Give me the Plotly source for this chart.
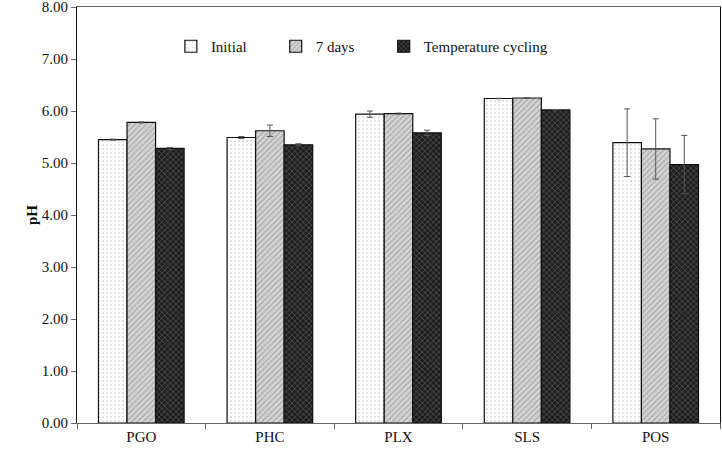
import plotly.graph_objects as go

categories = ["PGO", "PHC", "PLX", "SLS", "POS"]
initial = [5.45, 5.49, 5.94, 6.24, 5.39]
initial_err = [0.01, 0.02, 0.06, 0.005, 0.65]
days7 = [5.78, 5.62, 5.95, 6.25, 5.27]
days7_err = [0.01, 0.11, 0.01, 0.005, 0.58]
temp = [5.28, 5.35, 5.58, 6.02, 4.97]
temp_err = [0.02, 0.02, 0.05, 0.005, 0.56]
y_ticks = [0, 1, 2, 3, 4, 5, 6, 7, 8]

FONT = "Liberation Serif, Times New Roman, serif"

def err(vals):
    return dict(type="data", array=vals, visible=True, color="#555555",
                thickness=1, width=3)

fig = go.Figure()
fig.add_trace(go.Bar(
    name="Initial", x=categories, y=initial, error_y=err(initial_err),
    legend="legend",
    marker=dict(color="white", line=dict(color="#111111", width=1.2),
                pattern=dict(shape=".", fgcolor="#b8b8b8", bgcolor="#ffffff",
                             size=4, solidity=0.22, fillmode="overlay")),
))
fig.add_trace(go.Bar(
    name="7 days", x=categories, y=days7, error_y=err(days7_err),
    legend="legend2",
    marker=dict(color="#cccccc", line=dict(color="#111111", width=1.2),
                pattern=dict(shape="/", fgcolor="#a8a8a8", bgcolor="#d4d4d4",
                             size=4, solidity=0.3, fillmode="replace")),
))
fig.add_trace(go.Bar(
    name="Temperature cycling", x=categories, y=temp, error_y=err(temp_err),
    legend="legend3",
    marker=dict(color="#222222", line=dict(color="#111111", width=1.2),
                pattern=dict(shape="x", fgcolor="#5a5a5a", bgcolor="#1e1e1e",
                             size=4, solidity=0.3, fillmode="replace")),
))

def leg(x):
    return dict(orientation="h", x=x, y=0.905, xanchor="left",
                yanchor="middle", bgcolor="rgba(0,0,0,0)",
                font=dict(family=FONT, size=15, color="#111111"),
                itemwidth=30)

fig.update_layout(
    width=722, height=449,
    margin=dict(l=77, r=2, t=7, b=26, autoexpand=False),
    paper_bgcolor="white", plot_bgcolor="white",
    font=dict(family=FONT, size=15, color="#111111"),
    barmode="group", bargap=0.334, bargroupgap=0,
    showlegend=True,
    legend=leg(0.146),
    legend2=leg(0.309),
    legend3=leg(0.477),
    xaxis=dict(showline=True, linecolor="#666666", linewidth=1.2, mirror=True,
               ticks="outside", ticklen=5, tickcolor="#666666",
               tickson="boundaries", showgrid=False,
               tickfont=dict(family=FONT, size=15, color="#111111")),
    yaxis=dict(range=[0, 8.0001], tickvals=y_ticks,
               ticktext=[f"{v:.2f}" for v in y_ticks],
               ticklabeloverflow="allow",
               showline=True, linecolor="#111111", linewidth=1.2, mirror=True,
               ticks="outside", ticklen=5, tickcolor="#666666",
               showgrid=False, zeroline=False,
               tickfont=dict(family=FONT, size=15, color="#111111"),
               title=dict(text="<b>pH</b>", standoff=0,
                          font=dict(family=FONT, size=15, color="#111111"))),
)

fig.write_html(
    "out.html",
    config={"displayModeBar": False},
    post_script="document.body.style.margin='0';document.body.style.padding='0';document.body.style.overflow='hidden';",
)
